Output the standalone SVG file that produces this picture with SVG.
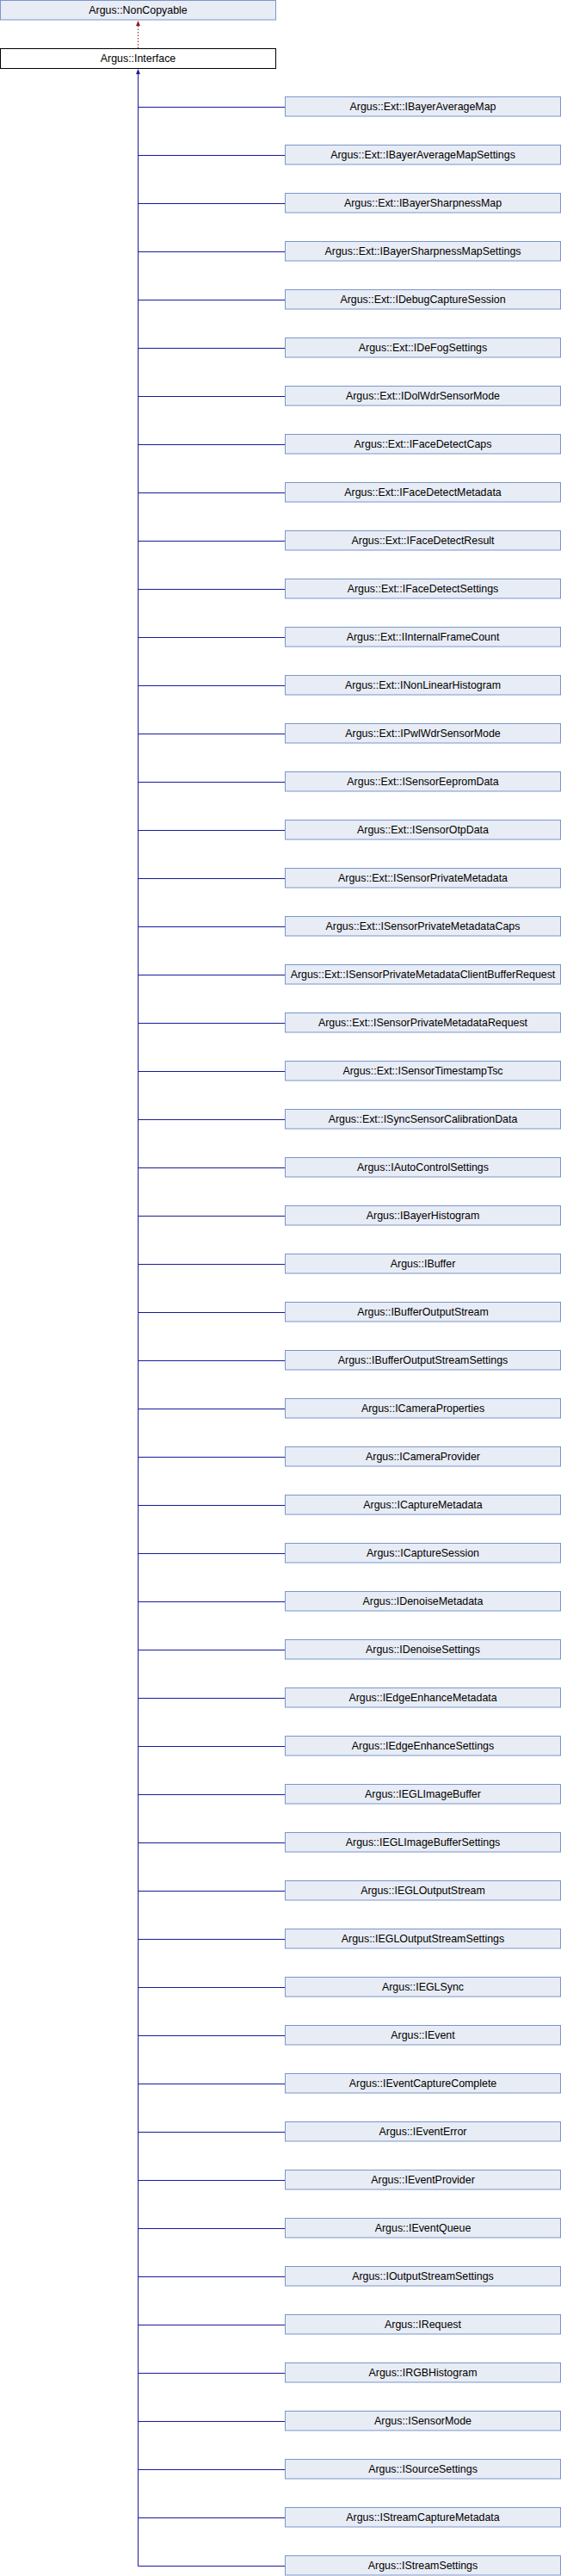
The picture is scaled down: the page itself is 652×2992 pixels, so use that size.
<svg xmlns="http://www.w3.org/2000/svg" width="652" height="2992" viewBox="0 0 652 2992">
<defs>
<style>
.n rect{fill:#E8ECF5;stroke:#7B96CB;stroke-width:1}
.cur rect{fill:#FFFFFF;stroke:#000000;stroke-width:1}
text{font-family:"Liberation Sans",Arial,sans-serif;font-size:12.4px;fill:#000;text-anchor:middle}
.e{fill:none;stroke:#1A1A98;stroke-width:1}
.p{fill:none;stroke:#8B1A1A;stroke-width:1;stroke-dasharray:1.5,2}
</style>
</defs>
<g id="connectors">
<line class="p" x1="160.5" y1="56" x2="160.5" y2="30"/>
<path d="M160.5,30 L158,30.2 L160.5,24 L163,30.2 Z" fill="#8B1A1A"/>
<path class="e" d="M331,124.5 H160.5 V86"/>
<path class="e" d="M331,180.5 H160.5 V86"/>
<path class="e" d="M331,236.5 H160.5 V86"/>
<path class="e" d="M331,292.5 H160.5 V86"/>
<path class="e" d="M331,348.5 H160.5 V86"/>
<path class="e" d="M331,404.5 H160.5 V86"/>
<path class="e" d="M331,460.5 H160.5 V86"/>
<path class="e" d="M331,516.5 H160.5 V86"/>
<path class="e" d="M331,572.5 H160.5 V86"/>
<path class="e" d="M331,628.5 H160.5 V86"/>
<path class="e" d="M331,684.5 H160.5 V86"/>
<path class="e" d="M331,740.5 H160.5 V86"/>
<path class="e" d="M331,796.5 H160.5 V86"/>
<path class="e" d="M331,852.5 H160.5 V86"/>
<path class="e" d="M331,908.5 H160.5 V86"/>
<path class="e" d="M331,964.5 H160.5 V86"/>
<path class="e" d="M331,1020.5 H160.5 V86"/>
<path class="e" d="M331,1076.5 H160.5 V86"/>
<path class="e" d="M331,1132.5 H160.5 V86"/>
<path class="e" d="M331,1188.5 H160.5 V86"/>
<path class="e" d="M331,1244.5 H160.5 V86"/>
<path class="e" d="M331,1300.5 H160.5 V86"/>
<path class="e" d="M331,1356.5 H160.5 V86"/>
<path class="e" d="M331,1412.5 H160.5 V86"/>
<path class="e" d="M331,1468.5 H160.5 V86"/>
<path class="e" d="M331,1524.5 H160.5 V86"/>
<path class="e" d="M331,1580.5 H160.5 V86"/>
<path class="e" d="M331,1636.5 H160.5 V86"/>
<path class="e" d="M331,1692.5 H160.5 V86"/>
<path class="e" d="M331,1748.5 H160.5 V86"/>
<path class="e" d="M331,1804.5 H160.5 V86"/>
<path class="e" d="M331,1860.5 H160.5 V86"/>
<path class="e" d="M331,1916.5 H160.5 V86"/>
<path class="e" d="M331,1972.5 H160.5 V86"/>
<path class="e" d="M331,2028.5 H160.5 V86"/>
<path class="e" d="M331,2084.5 H160.5 V86"/>
<path class="e" d="M331,2140.5 H160.5 V86"/>
<path class="e" d="M331,2196.5 H160.5 V86"/>
<path class="e" d="M331,2252.5 H160.5 V86"/>
<path class="e" d="M331,2308.5 H160.5 V86"/>
<path class="e" d="M331,2364.5 H160.5 V86"/>
<path class="e" d="M331,2420.5 H160.5 V86"/>
<path class="e" d="M331,2476.5 H160.5 V86"/>
<path class="e" d="M331,2532.5 H160.5 V86"/>
<path class="e" d="M331,2588.5 H160.5 V86"/>
<path class="e" d="M331,2644.5 H160.5 V86"/>
<path class="e" d="M331,2700.5 H160.5 V86"/>
<path class="e" d="M331,2756.5 H160.5 V86"/>
<path class="e" d="M331,2812.5 H160.5 V86"/>
<path class="e" d="M331,2868.5 H160.5 V86"/>
<path class="e" d="M331,2924.5 H160.5 V86"/>
<path class="e" d="M331,2980.5 H160.5 V86"/>
<path d="M160.5,86 L158,86.2 L160.5,80 L163,86.2 Z" fill="#1A1A98"/>
</g>
<g id="Argus_NonCopyable" class="n"><rect x="0.5" y="0.5" width="320" height="22.5"/><text x="160.5" y="15.5">Argus::NonCopyable</text></g>
<g id="Argus_Interface" class="cur"><rect x="0.5" y="56.5" width="320" height="23"/><text x="160.5" y="72">Argus::Interface</text></g>
<g id="c01" class="n"><rect x="331.5" y="112.5" width="320" height="22.5"/><text x="491.5" y="127.8">Argus::Ext::IBayerAverageMap</text></g>
<g id="c02" class="n"><rect x="331.5" y="168.5" width="320" height="22.5"/><text x="491.5" y="183.8">Argus::Ext::IBayerAverageMapSettings</text></g>
<g id="c03" class="n"><rect x="331.5" y="224.5" width="320" height="22.5"/><text x="491.5" y="239.8">Argus::Ext::IBayerSharpnessMap</text></g>
<g id="c04" class="n"><rect x="331.5" y="280.5" width="320" height="22.5"/><text x="491.5" y="295.8">Argus::Ext::IBayerSharpnessMapSettings</text></g>
<g id="c05" class="n"><rect x="331.5" y="336.5" width="320" height="22.5"/><text x="491.5" y="351.8">Argus::Ext::IDebugCaptureSession</text></g>
<g id="c06" class="n"><rect x="331.5" y="392.5" width="320" height="22.5"/><text x="491.5" y="407.8">Argus::Ext::IDeFogSettings</text></g>
<g id="c07" class="n"><rect x="331.5" y="448.5" width="320" height="22.5"/><text x="491.5" y="463.8">Argus::Ext::IDolWdrSensorMode</text></g>
<g id="c08" class="n"><rect x="331.5" y="504.5" width="320" height="22.5"/><text x="491.5" y="519.8">Argus::Ext::IFaceDetectCaps</text></g>
<g id="c09" class="n"><rect x="331.5" y="560.5" width="320" height="22.5"/><text x="491.5" y="575.8">Argus::Ext::IFaceDetectMetadata</text></g>
<g id="c10" class="n"><rect x="331.5" y="616.5" width="320" height="22.5"/><text x="491.5" y="631.8">Argus::Ext::IFaceDetectResult</text></g>
<g id="c11" class="n"><rect x="331.5" y="672.5" width="320" height="22.5"/><text x="491.5" y="687.8">Argus::Ext::IFaceDetectSettings</text></g>
<g id="c12" class="n"><rect x="331.5" y="728.5" width="320" height="22.5"/><text x="491.5" y="743.8">Argus::Ext::IInternalFrameCount</text></g>
<g id="c13" class="n"><rect x="331.5" y="784.5" width="320" height="22.5"/><text x="491.5" y="799.8">Argus::Ext::INonLinearHistogram</text></g>
<g id="c14" class="n"><rect x="331.5" y="840.5" width="320" height="22.5"/><text x="491.5" y="855.8">Argus::Ext::IPwlWdrSensorMode</text></g>
<g id="c15" class="n"><rect x="331.5" y="896.5" width="320" height="22.5"/><text x="491.5" y="911.8">Argus::Ext::ISensorEepromData</text></g>
<g id="c16" class="n"><rect x="331.5" y="952.5" width="320" height="22.5"/><text x="491.5" y="967.8">Argus::Ext::ISensorOtpData</text></g>
<g id="c17" class="n"><rect x="331.5" y="1008.5" width="320" height="22.5"/><text x="491.5" y="1023.8">Argus::Ext::ISensorPrivateMetadata</text></g>
<g id="c18" class="n"><rect x="331.5" y="1064.5" width="320" height="22.5"/><text x="491.5" y="1079.8">Argus::Ext::ISensorPrivateMetadataCaps</text></g>
<g id="c19" class="n"><rect x="331.5" y="1120.5" width="320" height="22.5"/><text x="491.5" y="1135.8">Argus::Ext::ISensorPrivateMetadataClientBufferRequest</text></g>
<g id="c20" class="n"><rect x="331.5" y="1176.5" width="320" height="22.5"/><text x="491.5" y="1191.8">Argus::Ext::ISensorPrivateMetadataRequest</text></g>
<g id="c21" class="n"><rect x="331.5" y="1232.5" width="320" height="22.5"/><text x="491.5" y="1247.8">Argus::Ext::ISensorTimestampTsc</text></g>
<g id="c22" class="n"><rect x="331.5" y="1288.5" width="320" height="22.5"/><text x="491.5" y="1303.8">Argus::Ext::ISyncSensorCalibrationData</text></g>
<g id="c23" class="n"><rect x="331.5" y="1344.5" width="320" height="22.5"/><text x="491.5" y="1359.8">Argus::IAutoControlSettings</text></g>
<g id="c24" class="n"><rect x="331.5" y="1400.5" width="320" height="22.5"/><text x="491.5" y="1415.8">Argus::IBayerHistogram</text></g>
<g id="c25" class="n"><rect x="331.5" y="1456.5" width="320" height="22.5"/><text x="491.5" y="1471.8">Argus::IBuffer</text></g>
<g id="c26" class="n"><rect x="331.5" y="1512.5" width="320" height="22.5"/><text x="491.5" y="1527.8">Argus::IBufferOutputStream</text></g>
<g id="c27" class="n"><rect x="331.5" y="1568.5" width="320" height="22.5"/><text x="491.5" y="1583.8">Argus::IBufferOutputStreamSettings</text></g>
<g id="c28" class="n"><rect x="331.5" y="1624.5" width="320" height="22.5"/><text x="491.5" y="1639.8">Argus::ICameraProperties</text></g>
<g id="c29" class="n"><rect x="331.5" y="1680.5" width="320" height="22.5"/><text x="491.5" y="1695.8">Argus::ICameraProvider</text></g>
<g id="c30" class="n"><rect x="331.5" y="1736.5" width="320" height="22.5"/><text x="491.5" y="1751.8">Argus::ICaptureMetadata</text></g>
<g id="c31" class="n"><rect x="331.5" y="1792.5" width="320" height="22.5"/><text x="491.5" y="1807.8">Argus::ICaptureSession</text></g>
<g id="c32" class="n"><rect x="331.5" y="1848.5" width="320" height="22.5"/><text x="491.5" y="1863.8">Argus::IDenoiseMetadata</text></g>
<g id="c33" class="n"><rect x="331.5" y="1904.5" width="320" height="22.5"/><text x="491.5" y="1919.8">Argus::IDenoiseSettings</text></g>
<g id="c34" class="n"><rect x="331.5" y="1960.5" width="320" height="22.5"/><text x="491.5" y="1975.8">Argus::IEdgeEnhanceMetadata</text></g>
<g id="c35" class="n"><rect x="331.5" y="2016.5" width="320" height="22.5"/><text x="491.5" y="2031.8">Argus::IEdgeEnhanceSettings</text></g>
<g id="c36" class="n"><rect x="331.5" y="2072.5" width="320" height="22.5"/><text x="491.5" y="2087.8">Argus::IEGLImageBuffer</text></g>
<g id="c37" class="n"><rect x="331.5" y="2128.5" width="320" height="22.5"/><text x="491.5" y="2143.8">Argus::IEGLImageBufferSettings</text></g>
<g id="c38" class="n"><rect x="331.5" y="2184.5" width="320" height="22.5"/><text x="491.5" y="2199.8">Argus::IEGLOutputStream</text></g>
<g id="c39" class="n"><rect x="331.5" y="2240.5" width="320" height="22.5"/><text x="491.5" y="2255.8">Argus::IEGLOutputStreamSettings</text></g>
<g id="c40" class="n"><rect x="331.5" y="2296.5" width="320" height="22.5"/><text x="491.5" y="2311.8">Argus::IEGLSync</text></g>
<g id="c41" class="n"><rect x="331.5" y="2352.5" width="320" height="22.5"/><text x="491.5" y="2367.8">Argus::IEvent</text></g>
<g id="c42" class="n"><rect x="331.5" y="2408.5" width="320" height="22.5"/><text x="491.5" y="2423.8">Argus::IEventCaptureComplete</text></g>
<g id="c43" class="n"><rect x="331.5" y="2464.5" width="320" height="22.5"/><text x="491.5" y="2479.8">Argus::IEventError</text></g>
<g id="c44" class="n"><rect x="331.5" y="2520.5" width="320" height="22.5"/><text x="491.5" y="2535.8">Argus::IEventProvider</text></g>
<g id="c45" class="n"><rect x="331.5" y="2576.5" width="320" height="22.5"/><text x="491.5" y="2591.8">Argus::IEventQueue</text></g>
<g id="c46" class="n"><rect x="331.5" y="2632.5" width="320" height="22.5"/><text x="491.5" y="2647.8">Argus::IOutputStreamSettings</text></g>
<g id="c47" class="n"><rect x="331.5" y="2688.5" width="320" height="22.5"/><text x="491.5" y="2703.8">Argus::IRequest</text></g>
<g id="c48" class="n"><rect x="331.5" y="2744.5" width="320" height="22.5"/><text x="491.5" y="2759.8">Argus::IRGBHistogram</text></g>
<g id="c49" class="n"><rect x="331.5" y="2800.5" width="320" height="22.5"/><text x="491.5" y="2815.8">Argus::ISensorMode</text></g>
<g id="c50" class="n"><rect x="331.5" y="2856.5" width="320" height="22.5"/><text x="491.5" y="2871.8">Argus::ISourceSettings</text></g>
<g id="c51" class="n"><rect x="331.5" y="2912.5" width="320" height="22.5"/><text x="491.5" y="2927.8">Argus::IStreamCaptureMetadata</text></g>
<g id="c52" class="n"><rect x="331.5" y="2968.5" width="320" height="22.5"/><text x="491.5" y="2983.8">Argus::IStreamSettings</text></g>
</svg>
